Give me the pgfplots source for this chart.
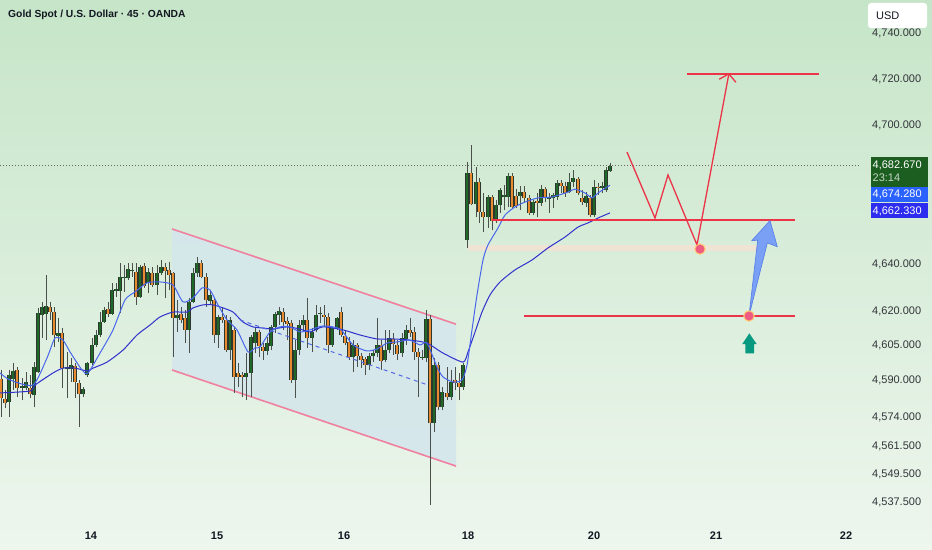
\documentclass[border=0pt]{standalone}
\usepackage{pgfplots}
\pgfplotsset{compat=1.18}
\usepackage{pgfplotstable}
\usepackage{fontspec}
\setmainfont{Liberation Sans}
\usetikzlibrary{arrows.meta}

\definecolor{bgtop}{RGB}{198,229,200}
\definecolor{bgbot}{RGB}{238,246,238}
\definecolor{chanfill}{RGB}{212,230,236}
\definecolor{chanline}{RGB}{240,128,160}
\definecolor{redl}{RGB}{235,52,72}
\definecolor{beige}{RGB}{242,226,212}
\definecolor{fastma}{RGB}{72,102,235}
\definecolor{slowma}{RGB}{48,48,205}
\definecolor{dashc}{RGB}{85,105,230}
\definecolor{bullc}{RGB}{30,105,40}
\definecolor{bearc}{RGB}{232,138,48}
\definecolor{edgec}{RGB}{45,55,45}
\definecolor{wickc}{RGB}{75,80,75}
\definecolor{dotfill}{RGB}{238,92,130}
\definecolor{dotdraw}{RGB}{255,205,115}
\definecolor{arrfill}{RGB}{122,160,245}
\definecolor{arrdraw}{RGB}{90,128,232}
\definecolor{greenarr}{RGB}{8,153,129}
\definecolor{tickc}{RGB}{50,52,58}
\definecolor{titlec}{RGB}{19,23,34}
\definecolor{pgreen}{RGB}{28,94,32}
\definecolor{pblue}{RGB}{41,98,255}
\definecolor{pindigo}{RGB}{45,45,240}

\pgfplotstableread{
x T B H L
9 4592.3 4580.7 4594.5 4574.2
13 4594.1 4590.6 4597.5 4585.9
22 4587.6 4586.7 4591.0 4581.5
26 4589.3 4586.7 4593.6 4585.9
34 4595.8 4583.7 4597.9 4578.5
38 4619.1 4593.6 4621.3 4593.2
42 4621.7 4618.2 4623.9 4608.3
46 4622.1 4618.7 4635.5 4607.4
58 4610.5 4609.2 4616.9 4606.6
67 4595.8 4594.9 4602.3 4582.4
71 4596.6 4594.9 4599.7 4589.3
83 4586.3 4584.1 4587.1 4582.8
87 4597.5 4592.3 4597.9 4591.5
92 4605.3 4597.5 4608.3 4596.6
96 4609.6 4605.3 4611.8 4604.4
100 4615.2 4609.6 4619.5 4608.7
104 4620.4 4615.2 4621.7 4614.8
112 4629.0 4618.7 4632.1 4618.2
116 4629.5 4628.6 4632.1 4626.0
120 4634.6 4628.6 4640.7 4619.1
124 4634.6 4634.2 4639.8 4628.2
128 4638.1 4634.2 4640.7 4633.3
132 4637.7 4637.2 4640.7 4634.6
140 4639.0 4626.0 4639.8 4625.6
148 4636.8 4632.1 4638.5 4627.7
157 4636.4 4631.2 4639.8 4626.9
161 4639.0 4636.4 4642.0 4635.5
177 4618.2 4616.9 4624.7 4610.9
189 4623.9 4611.8 4625.6 4601.8
193 4636.4 4623.9 4638.5 4623.4
197 4640.7 4636.4 4643.3 4634.6
210 4626.9 4624.3 4629.0 4622.6
218 4617.4 4609.6 4618.2 4604.0
230 4616.1 4603.1 4617.4 4598.8
246 4593.2 4591.5 4601.8 4581.5
251 4608.7 4593.2 4609.6 4582.8
255 4610.9 4606.1 4613.1 4601.8
267 4606.1 4602.7 4608.7 4601.0
271 4613.1 4604.8 4613.9 4603.1
275 4618.7 4613.1 4619.5 4610.5
279 4620.0 4618.2 4621.7 4613.9
295 4603.1 4590.2 4607.4 4582.4
299 4613.9 4603.1 4616.1 4601.0
303 4616.1 4613.9 4618.2 4610.9
312 4610.9 4608.3 4612.6 4602.3
316 4618.2 4611.8 4622.6 4610.9
320 4619.1 4618.7 4621.7 4614.8
332 4612.6 4605.3 4613.1 4604.4
337 4616.9 4612.6 4617.4 4611.8
353 4605.3 4600.1 4607.4 4593.6
369 4600.5 4596.6 4601.8 4594.5
373 4601.8 4600.5 4603.1 4597.9
377 4605.3 4601.8 4616.9 4600.1
385 4603.1 4598.8 4611.8 4597.9
389 4608.3 4603.1 4611.8 4601.8
402 4608.3 4601.8 4610.5 4600.1
406 4611.8 4607.9 4613.9 4605.3
422 4600.1 4599.7 4603.1 4598.8
426 4616.5 4599.7 4620.4 4597.9
434 4596.6 4571.6 4599.7 4567.7
442 4585.0 4578.5 4587.1 4577.2
451 4589.3 4582.8 4594.5 4581.5
463 4596.6 4587.1 4597.5 4585.9
467 4679.5 4650.6 4684.3 4647.2
476 4675.7 4666.2 4682.1 4660.5
488 4669.2 4660.5 4670.1 4655.8
496 4665.7 4658.8 4667.9 4658.0
500 4672.2 4665.7 4673.1 4662.3
504 4670.1 4669.2 4674.4 4663.6
508 4678.3 4669.2 4679.5 4664.9
520 4671.3 4669.6 4673.9 4663.6
533 4667.0 4662.3 4667.9 4661.4
541 4672.6 4666.6 4674.4 4665.3
549 4669.2 4668.3 4670.9 4662.3
553 4670.1 4668.8 4670.9 4664.4
557 4675.2 4669.2 4676.5 4667.9
569 4675.7 4671.3 4679.5 4670.9
573 4677.4 4675.7 4680.8 4673.5
586 4669.6 4666.6 4671.3 4664.9
594 4673.5 4661.4 4676.5 4660.5
602 4673.9 4673.1 4675.7 4670.9
606 4680.8 4672.2 4682.1 4671.3
610 4682.67 4680.4 4683.9 4680.0
}\bull

\pgfplotstableread{
x T B H L
1 4590.6 4582.4 4594.5 4574.2
5 4582.0 4580.2 4585.9 4578.1
17 4594.5 4586.7 4595.8 4582.8
30 4586.7 4584.1 4592.3 4582.4
50 4621.7 4619.5 4623.9 4616.1
54 4619.5 4609.6 4621.7 4604.4
62 4610.5 4595.3 4612.6 4586.7
75 4596.2 4589.3 4597.5 4582.4
79 4588.9 4584.1 4590.2 4569.9
108 4620.8 4618.7 4623.9 4617.4
136 4636.8 4626.0 4640.7 4622.6
144 4639.4 4630.8 4640.7 4629.9
152 4636.4 4631.2 4639.0 4630.3
165 4639.0 4637.2 4640.7 4625.6
169 4637.7 4635.5 4641.1 4629.0
173 4636.4 4616.9 4636.8 4600.1
181 4618.7 4616.1 4621.7 4614.8
185 4616.9 4611.8 4620.4 4606.1
201 4640.7 4634.6 4642.0 4634.2
206 4634.6 4624.7 4636.4 4621.7
214 4624.7 4609.6 4625.6 4606.1
222 4617.4 4616.1 4621.7 4614.8
226 4616.1 4603.1 4618.2 4602.3
234 4611.8 4591.5 4613.1 4584.6
238 4593.2 4591.5 4597.5 4587.1
242 4592.3 4591.5 4593.6 4582.8
259 4610.9 4604.8 4611.8 4600.1
263 4604.4 4602.7 4606.1 4598.8
283 4619.5 4615.2 4621.3 4611.8
287 4615.6 4614.3 4617.4 4607.4
291 4614.8 4590.2 4616.1 4588.9
307 4616.1 4608.3 4625.6 4604.0
324 4618.2 4617.4 4622.6 4613.1
328 4617.4 4605.3 4619.1 4601.8
341 4619.5 4609.6 4621.7 4608.7
345 4609.2 4606.1 4611.8 4605.3
349 4606.6 4600.1 4608.7 4598.8
357 4605.3 4600.5 4606.1 4595.8
361 4600.5 4598.8 4601.8 4595.3
365 4599.2 4596.6 4600.1 4592.3
381 4605.3 4598.4 4607.4 4594.5
393 4607.9 4605.7 4610.5 4601.0
397 4605.3 4601.4 4607.4 4598.8
410 4611.8 4610.5 4616.9 4608.7
414 4610.9 4602.3 4613.1 4598.8
418 4602.3 4600.1 4604.0 4582.8
430 4616.5 4571.6 4618.2 4536.2
438 4596.6 4578.5 4597.9 4577.2
447 4584.6 4582.8 4595.8 4581.5
455 4590.2 4588.9 4595.8 4585.9
459 4588.9 4587.1 4593.2 4581.5
471 4679.5 4666.2 4691.6 4665.7
479 4675.7 4662.7 4677.4 4658.0
483 4662.7 4660.5 4670.9 4654.1
492 4669.2 4658.8 4670.1 4654.9
512 4678.3 4664.9 4679.5 4664.4
516 4669.6 4665.3 4672.6 4664.4
524 4671.3 4668.8 4673.9 4667.0
529 4668.8 4662.3 4670.1 4661.4
537 4667.5 4666.6 4670.9 4660.5
545 4672.6 4668.8 4673.5 4667.0
561 4675.2 4673.9 4676.5 4670.9
565 4673.9 4670.9 4675.7 4669.2
578 4677.0 4670.9 4677.8 4670.1
582 4668.8 4667.0 4672.2 4665.7
590 4668.8 4661.4 4670.1 4660.5
598 4673.5 4673.1 4675.2 4670.1
}\bear

\begin{document}
\begin{tikzpicture}[x=1bp,y=1bp]
\shade[top color=bgtop, bottom color=bgbot] (0,0) rectangle (932,550);
\begin{axis}[
  at={(0bp,26bp)}, anchor=south west,
  scale only axis, width=860bp, height=524bp,
  xmin=0, xmax=860, ymin=4528.0, ymax=4754.25,
  axis line style={draw=none}, tick style={draw=none}, major tick length=0pt,
  clip mode=individual,
  xtick={91,217,344,468,594,716,846},
  xticklabels={14,15,16,18,20,21,22},
  xticklabel style={font=\bfseries\fontsize{11bp}{13bp}\selectfont, text=titlec, anchor=north, inner sep=0pt, yshift=-8bp},
  ytick={4740,4720,4700,4640,4620,4605,4590,4574,4561.5,4549.5,4537.5},
  yticklabel pos=right,
  yticklabel style={font=\fontsize{11bp}{13bp}\selectfont, text=tickc, anchor=west, inner sep=0pt, xshift=12bp,
    /pgf/number format/.cd, fixed, fixed zerofill, precision=3, 1000 sep={,}, assume math mode=true},
]
% channel
\addplot[fill=chanfill, fill opacity=0.85, draw=none] coordinates {(172,4655.4) (456,4614.3) (456,4553.0) (172,4594.5)} -- cycle;
\addplot[chanline, line width=1.6bp] coordinates {(172,4655.4) (456,4614.3)};
\addplot[chanline, line width=1.6bp] coordinates {(172,4594.5) (456,4553.0)};
% beige band
\addplot[fill=beige, fill opacity=0.9, draw=none] coordinates {(468,4645.9) (757,4645.9) (757,4648.5) (468,4648.5)} -- cycle;
% dotted current price
\addplot[black!60, line width=0.8bp, dash pattern=on 1bp off 2bp] coordinates {(0,4682.67) (860,4682.67)};
% wicks
\addplot[draw=none, error bars/.cd, y dir=plus, y explicit, error mark=none,
  error bar style={draw=wickc, line width=0.9bp, solid}]
  table[x=x, y=L, y error expr=\thisrow{H}-\thisrow{L}] {\bull};
\addplot[draw=none, error bars/.cd, y dir=plus, y explicit, error mark=none,
  error bar style={draw=wickc, line width=0.9bp, solid}]
  table[x=x, y=L, y error expr=\thisrow{H}-\thisrow{L}] {\bear};
% bodies
\addplot[draw=none, error bars/.cd, y dir=plus, y explicit, error mark=none,
  error bar style={draw=edgec, line width=3.6bp, solid}]
  table[x=x, y=B, y error expr=\thisrow{T}-\thisrow{B}] {\bull};
\addplot[draw=none, error bars/.cd, y dir=plus, y explicit, error mark=none,
  error bar style={draw=bullc, line width=2.5bp, solid}]
  table[x=x, y=B, y error expr=\thisrow{T}-\thisrow{B}] {\bull};
\addplot[draw=none, error bars/.cd, y dir=plus, y explicit, error mark=none,
  error bar style={draw=edgec, line width=3.6bp, solid}]
  table[x=x, y=B, y error expr=\thisrow{T}-\thisrow{B}] {\bear};
\addplot[draw=none, error bars/.cd, y dir=plus, y explicit, error mark=none,
  error bar style={draw=bearc, line width=2.5bp, solid}]
  table[x=x, y=B, y error expr=\thisrow{T}-\thisrow{B}] {\bear};
% moving averages
\addplot[slowma, line width=1bp, smooth, tension=0.4] coordinates {
(0,4584.6) (30,4585.4) (35,4588.0) (53,4593.2) (63,4595.3) (75,4595.3) (87,4594.1) (93,4595.3) (107,4597.9) (123,4603.1) (137,4609.6) (150,4613.9) (160,4617.4) (173,4619.5) (187,4619.5) (193,4621.3) (203,4622.6) (213,4622.6) (223,4621.3) (233,4619.5) (243,4615.2) (253,4613.1) (263,4612.6) (273,4612.2) (287,4613.1) (300,4612.2) (310,4610.9) (323,4613.1) (343,4611.8) (360,4609.6) (377,4607.9) (393,4607.9) (410,4607.4) (427,4606.1) (443,4601.8) (463,4597.9) (468,4602.3) (474,4609.6) (482,4619.5) (490,4626.9) (500,4632.5) (515,4637.7) (532,4642.0) (548,4647.2) (565,4651.9) (578,4656.2) (588,4658.0) (598,4660.1) (610,4662.33)};
\addplot[fastma, line width=1bp, smooth, tension=0.4] coordinates {
(0,4593.2) (10,4590.2) (33,4588.0) (47,4599.7) (55,4608.3) (63,4607.4) (70,4602.3) (82,4594.5) (88,4593.2) (100,4601.8) (113,4611.8) (125,4624.7) (135,4628.2) (147,4632.1) (160,4632.5) (173,4631.2) (183,4623.9) (193,4625.6) (202,4629.9) (210,4629.0) (218,4622.6) (227,4616.1) (237,4611.8) (248,4602.3) (255,4604.0) (260,4604.4) (270,4610.9) (280,4613.1) (290,4613.1) (300,4610.9) (310,4611.8) (323,4613.5) (340,4612.2) (353,4605.3) (367,4602.7) (377,4603.6) (387,4606.1) (397,4606.6) (410,4607.4) (420,4605.3) (427,4606.1) (437,4595.8) (443,4591.5) (453,4589.3) (462,4590.2) (467,4596.6) (472,4611.8) (477,4626.9) (483,4642.0) (488,4648.5) (498,4655.8) (505,4661.4) (515,4664.9) (525,4667.0) (538,4668.8) (552,4669.2) (568,4671.3) (575,4672.6) (585,4670.9) (592,4668.8) (598,4670.9) (610,4674.28)};
% dashed mid line
\addplot[dashc, line width=1bp, dash pattern=on 4bp off 4bp] coordinates {(240,4616.1) (428,4588.0)};
% red levels
\addplot[redl, line width=1.8bp] coordinates {(687,4722.3) (819,4722.3)};
\addplot[redl, line width=1.8bp] coordinates {(492,4659.3) (795,4659.3)};
\addplot[redl, line width=1.8bp] coordinates {(524,4617.8) (795,4617.8)};
% zigzag projection
\addplot[redl, line width=1.3bp, -{Straight Barb[length=7bp, width=17bp, line width=1.3bp]}] coordinates {(627,4688.6) (655,4660.1) (668,4678.7) (697,4648.5) (729,4722.7)};
% blue arrow
\addplot[fill=arrfill, draw=arrdraw, line width=0.7bp, line join=round] coordinates {(749,4617.8) (757.7,4650.6) (751.7,4650.3) (770,4659.0) (777.3,4647.7) (767.3,4649.4)} -- cycle;
% green arrow
\addplot[fill=greenarr, draw=none] coordinates {(749.3,4610.3) (756.7,4605.7) (754,4605.7) (754,4601.7) (745.3,4601.7) (745.3,4605.7) (742.3,4605.7)} -- cycle;
% dots
\addplot[only marks, mark=*, mark size=5.2bp, mark options={fill=dotfill, draw=dotdraw, line width=1bp}] coordinates {(700,4646.7) (749,4617.8)};
\end{axis}
% right-hand price labels
\fill[white, rounded corners=3bp] (868,522) rectangle (927,547);
\node[anchor=west, inner sep=0pt, font=\fontsize{11bp}{13bp}\selectfont, text=titlec] at (876,534) {USD};
\fill[pgreen] (871,393) rectangle (928,363);
\node[anchor=west, inner sep=0pt, font=\fontsize{11bp}{13bp}\selectfont, text=white] at (872.5,385) {4,682.670};
\node[anchor=west, inner sep=0pt, font=\fontsize{11bp}{13bp}\selectfont, text=white!75!pgreen] at (872.5,372) {23:14};
\fill[pblue] (871,362.7) rectangle (928,348.3);
\node[anchor=west, inner sep=0pt, font=\fontsize{11bp}{13bp}\selectfont, text=white] at (872.5,356) {4,674.280};
\fill[pindigo] (871,346.7) rectangle (928,331.7);
\node[anchor=west, inner sep=0pt, font=\fontsize{11bp}{13bp}\selectfont, text=white] at (872.5,339) {4,662.330};
% title
\node[anchor=west, inner sep=0pt, font=\bfseries\fontsize{10.3bp}{12bp}\selectfont, text=titlec] at (8,535) {Gold Spot / U.S. Dollar · 45 · OANDA};
\pgfresetboundingbox
\path[use as bounding box] (0,0) rectangle (932,550);
\end{tikzpicture}
\end{document}
